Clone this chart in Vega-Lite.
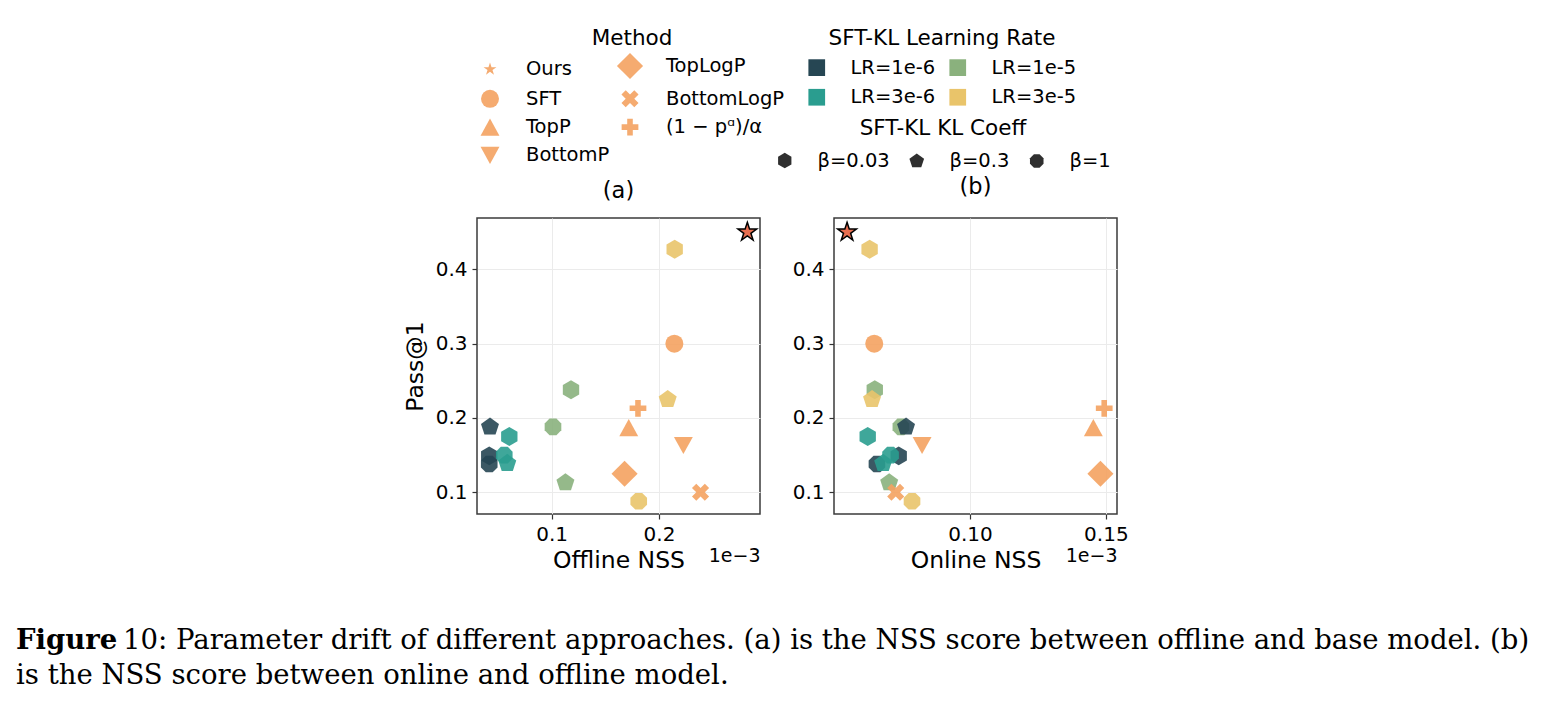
{
  "$schema": "https://vega.github.io/schema/vega-lite/v6.json",
  "padding": {"left": 16, "top": 27, "right": 4, "bottom": 4},
  "background": "white",
  "datasets": {
    "runs": [
      {"method": "SFT-KL", "lr": "LR=1e-5", "beta": "β=0.03", "offline": 0.118, "online": 0.0650, "pass": 0.238},
      {"method": "SFT-KL", "lr": "LR=1e-5", "beta": "β=0.3", "offline": 0.1128, "online": 0.0703, "pass": 0.113},
      {"method": "SFT-KL", "lr": "LR=1e-5", "beta": "β=1", "offline": 0.1012, "online": 0.0746, "pass": 0.188},
      {"method": "SFT-KL", "lr": "LR=1e-6", "beta": "β=0.03", "offline": 0.0418, "online": 0.0738, "pass": 0.149},
      {"method": "SFT-KL", "lr": "LR=1e-6", "beta": "β=0.3", "offline": 0.0425, "online": 0.0765, "pass": 0.188},
      {"method": "SFT-KL", "lr": "LR=1e-6", "beta": "β=1", "offline": 0.0418, "online": 0.0658, "pass": 0.138},
      {"method": "SFT-KL", "lr": "LR=3e-6", "beta": "β=0.03", "offline": 0.0605, "online": 0.0624, "pass": 0.175},
      {"method": "SFT-KL", "lr": "LR=3e-6", "beta": "β=0.3", "offline": 0.0586, "online": 0.0681, "pass": 0.139},
      {"method": "SFT-KL", "lr": "LR=3e-6", "beta": "β=1", "offline": 0.0558, "online": 0.0708, "pass": 0.150},
      {"method": "SFT-KL", "lr": "LR=3e-5", "beta": "β=0.03", "offline": 0.2146, "online": 0.0631, "pass": 0.427},
      {"method": "SFT-KL", "lr": "LR=3e-5", "beta": "β=0.3", "offline": 0.2081, "online": 0.0640, "pass": 0.225},
      {"method": "SFT-KL", "lr": "LR=3e-5", "beta": "β=1", "offline": 0.1811, "online": 0.0787, "pass": 0.088},
      {"method": "SFT", "lr": null, "beta": null, "offline": 0.2143, "online": 0.0648, "pass": 0.300},
      {"method": "TopP", "lr": null, "beta": null, "offline": 0.1718, "online": 0.1454, "pass": 0.187},
      {"method": "BottomP", "lr": null, "beta": null, "offline": 0.2227, "online": 0.0824, "pass": 0.163},
      {"method": "TopLogP", "lr": null, "beta": null, "offline": 0.1679, "online": 0.1480, "pass": 0.125},
      {"method": "BottomLogP", "lr": null, "beta": null, "offline": 0.2387, "online": 0.0727, "pass": 0.100},
      {"method": "(1 − pᵅ)/α", "lr": null, "beta": null, "offline": 0.1804, "online": 0.1494, "pass": 0.213},
      {"method": "Ours", "lr": null, "beta": null, "offline": 0.2823, "online": 0.0548, "pass": 0.450}
    ]
  },
  "data": {"name": "runs"},
  "title": {
    "text": "10: Parameter drift of different approaches. (a) is the NSS score between offline and base model. (b)",
    "orient": "bottom",
    "anchor": "start",
    "frame": "group",
    "font": "DejaVu Serif",
    "fontSize": 27.5,
    "fontWeight": "normal",
    "color": "#000",
    "baseline": "top",
    "dx": -354,
    "dy": -67
  },
  "bounds": "flush",
  "vconcat": [
    {
      "title": {
        "text": "Figure",
        "subtitle": "is the NSS score between online and offline model.",
        "orient": "bottom",
        "anchor": "start",
        "frame": "group",
        "font": "DejaVu Serif",
        "fontSize": 27.5,
        "fontWeight": "bold",
        "color": "#000",
        "subtitleFont": "DejaVu Serif",
        "subtitleFontSize": 27.5,
        "subtitleFontWeight": "normal",
        "subtitleColor": "#000",
        "subtitlePadding": 8,
        "baseline": "top",
        "offset": 54.5,
        "dx": -461
      },
      "bounds": "flush",
      "spacing": 74,
      "resolve": {"scale": {"color": "independent", "shape": "independent"}, "legend": {"color": "independent", "shape": "independent"}},
      "hconcat": [
        {
          "width": 283,
          "height": 296,
          "title": {"text": "(a)", "baseline": "alphabetic", "offset": 17, "dy": 209.5},
          "layer": [
            {
              "transform": [{"filter": "datum.method === 'SFT-KL'"}],
              "mark": {"type": "point", "filled": true, "opacity": 0.9, "size": 324, "strokeWidth": 0},
              "encoding": {
                "x": {
                  "field": "offline", "type": "quantitative",
                  "scale": {"domain": [0.0304, 0.2941], "nice": false, "zero": false},
                  "axis": {"values": [0.1, 0.2], "format": ".1f", "title": "Offline NSS"}
                },
                "y": {
                  "field": "pass", "type": "quantitative",
                  "scale": {"domain": [0.0708, 0.469], "nice": false, "zero": false},
                  "axis": {"values": [0.1, 0.2, 0.3, 0.4], "format": ".1f", "title": "Pass@1", "titlePadding": 8}
                },
                "color": {
                  "field": "lr", "type": "nominal",
                  "scale": {"domain": ["LR=1e-6", "LR=3e-6", "LR=1e-5", "LR=3e-5"], "range": ["#264653", "#2A9D8F", "#8AB17D", "#E9C46A"]},
                  "legend": {
                    "title": "SFT-KL Learning Rate",
                    "orient": "none", "legendX": 330, "legendY": -190,
                    "columns": 2, "symbolType": "square", "symbolSize": 279,
                    "labelOffset": 24, "columnPadding": 12, "rowPadding": 9,
                    "titlePadding": 8,
                    "symbolOpacity": 1, "symbolStrokeWidth": 0
                  }
                },
                "shape": {
                  "field": "beta", "type": "nominal",
                  "scale": {
                    "domain": ["β=0.03", "β=0.3", "β=1"],
                    "range": [
                      "M0,-1.05L0.909,-0.525L0.909,0.525L0,1.05L-0.909,0.525L-0.909,-0.525Z",
                      "M0,-1.05L0.999,-0.324L0.617,0.849L-0.617,0.849L-0.999,-0.324Z",
                      "M0.383,-0.924L0.924,-0.383L0.924,0.383L0.383,0.924L-0.383,0.924L-0.924,0.383L-0.924,-0.383L-0.383,-0.924Z"
                    ]
                  },
                  "legend": {
                    "title": "SFT-KL KL Coeff",
                    "orient": "none", "legendX": 298, "legendY": -100,
                    "columns": 3, "symbolSize": 215,
                    "labelOffset": 23, "columnPadding": 16,
                    "encode": {"symbols": {"update": {"fill": {"value": "#000"}, "stroke": {"value": "transparent"}, "opacity": {"value": 1}}}}
                  }
                }
              }
            },
            {
              "transform": [{"filter": "datum.method !== 'SFT-KL' && datum.method !== 'Ours'"}],
              "mark": {"type": "point", "filled": true, "opacity": 0.9, "size": 324, "color": "#F4A261", "strokeWidth": 0},
              "encoding": {
                "x": {"field": "offline", "type": "quantitative", "axis": null},
                "y": {"field": "pass", "type": "quantitative"},
                "shape": {
                  "field": "method", "type": "nominal",
                  "scale": {
                    "domain": ["Ours", "SFT", "TopP", "BottomP", "TopLogP", "BottomLogP", "(1 − pᵅ)/α"],
                    "range": [
                      "M0,-0.75L0.17,-0.235L0.713,-0.232L0.276,0.09L0.441,0.607L0,0.29L-0.441,0.607L-0.276,0.09L-0.713,-0.232L-0.17,-0.235Z",
                      "circle",
                      "M0,-0.95L1.05,0.95L-1.05,0.95Z",
                      "M0,0.95L1.05,-0.95L-1.05,-0.95Z",
                      "M0,-1.45L1.45,0L0,1.45L-1.45,0Z",
                      "M-0.475,-0.95L0,-0.475L0.475,-0.95L0.95,-0.475L0.475,0L0.95,0.475L0.475,0.95L0,0.475L-0.475,0.95L-0.95,0.475L-0.475,0L-0.95,-0.475Z",
                      "M-0.31,-0.93L0.31,-0.93L0.31,-0.31L0.93,-0.31L0.93,0.31L0.31,0.31L0.31,0.93L-0.31,0.93L-0.31,0.31L-0.93,0.31L-0.93,-0.31L-0.31,-0.31Z"
                    ]
                  },
                  "legend": {
                    "title": "Method",
                    "orient": "none", "legendX": 3, "legendY": -190,
                    "columns": 2, "symbolSize": 324,
                    "labelOffset": 26, "columnPadding": 3, "rowPadding": 4.3,
                    "titlePadding": 6,
                    "encode": {"symbols": {"update": {"fill": {"value": "#F4A261"}, "stroke": {"value": "transparent"}, "opacity": {"value": 1}}}}
                  }
                }
              }
            },
            {
              "transform": [{"filter": "datum.method === 'Ours'"}],
              "mark": {
                "type": "point", "filled": true, "opacity": 1, "size": 384,
                "shape": "M0,-1L0.2245,-0.309L0.951,-0.309L0.363,0.118L0.588,0.809L0,0.382L-0.588,0.809L-0.363,0.118L-0.951,-0.309L-0.2245,-0.309Z",
                "fill": "#E76F51", "stroke": "#000", "strokeWidth": 1.5
              },
              "encoding": {
                "x": {
                  "field": "offline", "type": "quantitative",
                  "axis": {"orient": "bottom", "title": "1e−3", "labels": false, "ticks": false, "domain": false, "grid": false, "titleAnchor": "end", "titleFontSize": 19, "titlePadding": 32}
                },
                "y": {"field": "pass", "type": "quantitative"}
              }
            }
          ],
          "resolve": {"scale": {"shape": "independent"}, "axis": {"x": "independent"}}
        },
        {
          "width": 283,
          "height": 296,
          "title": {"text": "(b)", "baseline": "alphabetic", "offset": 17, "dy": 15.5},
          "layer": [
            {
              "transform": [{"filter": "datum.method === 'SFT-KL'"}],
              "mark": {"type": "point", "filled": true, "opacity": 0.9, "size": 324, "strokeWidth": 0},
              "encoding": {
                "x": {
                  "field": "online", "type": "quantitative",
                  "scale": {"domain": [0.05, 0.1541], "nice": false, "zero": false},
                  "axis": {"values": [0.1, 0.15], "format": ".2f", "title": "Online NSS"}
                },
                "y": {
                  "field": "pass", "type": "quantitative",
                  "scale": {"domain": [0.0708, 0.469], "nice": false, "zero": false},
                  "axis": {"values": [0.1, 0.2, 0.3, 0.4], "format": ".1f", "title": null}
                },
                "color": {
                  "field": "lr", "type": "nominal",
                  "scale": {"domain": ["LR=1e-6", "LR=3e-6", "LR=1e-5", "LR=3e-5"], "range": ["#264653", "#2A9D8F", "#8AB17D", "#E9C46A"]},
                  "legend": null
                },
                "shape": {
                  "field": "beta", "type": "nominal",
                  "scale": {
                    "domain": ["β=0.03", "β=0.3", "β=1"],
                    "range": [
                      "M0,-1.05L0.909,-0.525L0.909,0.525L0,1.05L-0.909,0.525L-0.909,-0.525Z",
                      "M0,-1.05L0.999,-0.324L0.617,0.849L-0.617,0.849L-0.999,-0.324Z",
                      "M0.383,-0.924L0.924,-0.383L0.924,0.383L0.383,0.924L-0.383,0.924L-0.924,0.383L-0.924,-0.383L-0.383,-0.924Z"
                    ]
                  },
                  "legend": null
                }
              }
            },
            {
              "transform": [{"filter": "datum.method !== 'SFT-KL' && datum.method !== 'Ours'"}],
              "mark": {"type": "point", "filled": true, "opacity": 0.9, "size": 324, "color": "#F4A261", "strokeWidth": 0},
              "encoding": {
                "x": {"field": "online", "type": "quantitative", "axis": null},
                "y": {"field": "pass", "type": "quantitative"},
                "shape": {
                  "field": "method", "type": "nominal",
                  "scale": {
                    "domain": ["Ours", "SFT", "TopP", "BottomP", "TopLogP", "BottomLogP", "(1 − pᵅ)/α"],
                    "range": [
                      "M0,-0.75L0.17,-0.235L0.713,-0.232L0.276,0.09L0.441,0.607L0,0.29L-0.441,0.607L-0.276,0.09L-0.713,-0.232L-0.17,-0.235Z",
                      "circle",
                      "M0,-0.95L1.05,0.95L-1.05,0.95Z",
                      "M0,0.95L1.05,-0.95L-1.05,-0.95Z",
                      "M0,-1.45L1.45,0L0,1.45L-1.45,0Z",
                      "M-0.475,-0.95L0,-0.475L0.475,-0.95L0.95,-0.475L0.475,0L0.95,0.475L0.475,0.95L0,0.475L-0.475,0.95L-0.95,0.475L-0.475,0L-0.95,-0.475Z",
                      "M-0.31,-0.93L0.31,-0.93L0.31,-0.31L0.93,-0.31L0.93,0.31L0.31,0.31L0.31,0.93L-0.31,0.93L-0.31,0.31L-0.93,0.31L-0.93,-0.31L-0.31,-0.31Z"
                    ]
                  },
                  "legend": null
                }
              }
            },
            {
              "transform": [{"filter": "datum.method === 'Ours'"}],
              "mark": {
                "type": "point", "filled": true, "opacity": 1, "size": 384,
                "shape": "M0,-1L0.2245,-0.309L0.951,-0.309L0.363,0.118L0.588,0.809L0,0.382L-0.588,0.809L-0.363,0.118L-0.951,-0.309L-0.2245,-0.309Z",
                "fill": "#E76F51", "stroke": "#000", "strokeWidth": 1.5
              },
              "encoding": {
                "x": {
                  "field": "online", "type": "quantitative",
                  "axis": {"orient": "bottom", "title": "1e−3", "labels": false, "ticks": false, "domain": false, "grid": false, "titleAnchor": "end", "titleFontSize": 19, "titlePadding": 32}
                },
                "y": {"field": "pass", "type": "quantitative"}
              }
            }
          ],
          "resolve": {"scale": {"shape": "independent"}, "axis": {"x": "independent"}}
        }
      ]
    }
  ],
  "config": {
    "font": "DejaVu Sans",
    "view": {"stroke": "#3b3b3b", "strokeWidth": 1.5},
    "axis": {
      "domain": false,
      "grid": true,
      "gridColor": "#ebebeb",
      "gridWidth": 1,
      "tickColor": "#333",
      "tickSize": 5,
      "tickWidth": 1.2,
      "labelFontSize": 20,
      "labelColor": "#000",
      "labelPadding": 5,
      "titleFontSize": 23.5,
      "titleFontWeight": "normal",
      "titleColor": "#000"
    },
    "legend": {
      "padding": 0,
      "titleFontSize": 21.5,
      "titleFontWeight": "normal",
      "titleColor": "#000",
      "titleAnchor": "middle",
      "titlePadding": 11,
      "titleLimit": 400,
      "labelFontSize": 19.5,
      "labelColor": "#000",
      "labelLimit": 400
    },
    "title": {"fontSize": 22.5, "fontWeight": "normal", "color": "#000", "font": "DejaVu Sans"}
  }
}
